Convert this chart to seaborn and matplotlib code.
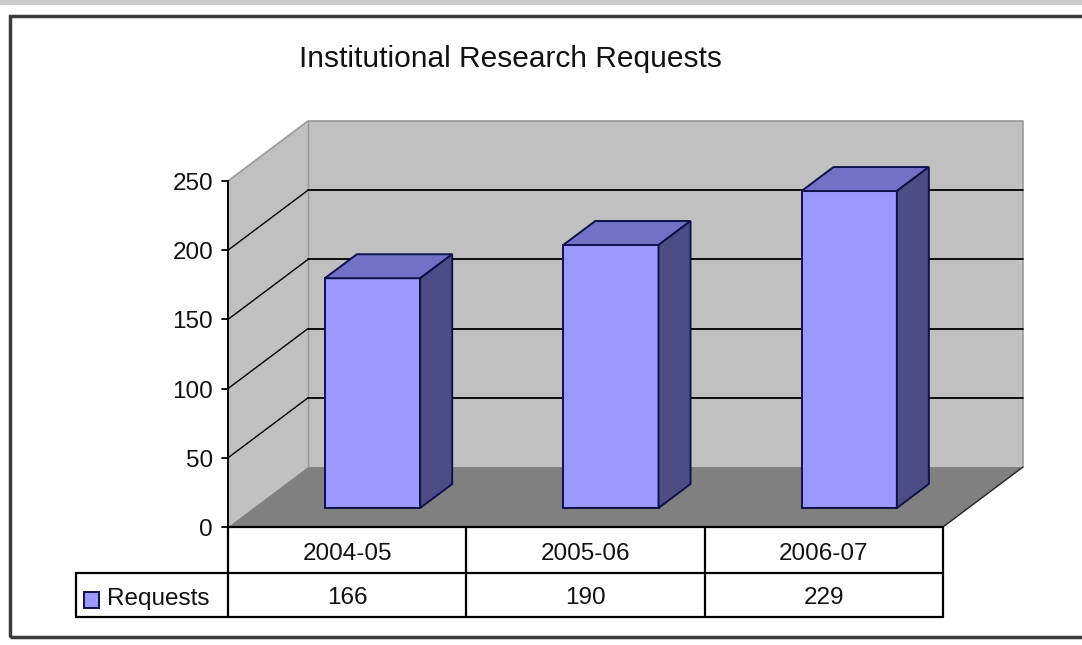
import matplotlib
matplotlib.use("Agg")
import matplotlib.pyplot as plt
from matplotlib.patches import Polygon, Rectangle
import seaborn as sns
import pandas as pd

# Data
periods = ["2004-05", "2005-06", "2006-07"]
requests = [166, 190, 229]
series_name = "Requests"
title = "Institutional Research Requests"
y_ticks = [0, 50, 100, 150, 200, 250]

sns.set_theme(style="white")
plt.rcParams["font.family"] = ["Liberation Sans", "DejaVu Sans"]

W, H = 1082, 645
fig = plt.figure(figsize=(W / 100, H / 100), dpi=100)
ax = fig.add_axes([0, 0, 1, 1])

# Pixel layout of the front plane: category slots and value scale
X0_PX, SLOT_PX = 228.0, 238.33   # left edge of front floor, width of one category
Y0_PX, UNIT_PX = 527.0, 1.384    # value 0 on front plane, pixels per unit


def px_x(px):
    return (px - X0_PX) / SLOT_PX - 0.5


def px_y(py):
    return (Y0_PX - py) / UNIT_PX


# depth of the 3D box in data units
DX = 80 / SLOT_PX
DY = 60 / UNIT_PX
YMAX = y_ticks[-1]
XL, XR = -0.5, len(periods) - 0.5

df = pd.DataFrame({"period": periods, "requests": requests})
sns.barplot(data=df, x="period", y="requests", ax=ax, width=0.4,
            color="#9999ff", saturation=1, edgecolor="#10104a",
            linewidth=1.4, zorder=5)

ax.set_xlim(px_x(0), px_x(W))
ax.set_ylim(px_y(H), px_y(0))
ax.axis("off")

# Walls and floor
wall = "#c0c0c0"
ax.add_patch(Polygon([(XL, 0), (XL, YMAX), (XL + DX, YMAX + DY), (XL + DX, DY)],
                     closed=True, facecolor=wall, edgecolor="none", zorder=1))
ax.add_patch(Polygon([(XL + DX, DY), (XL + DX, YMAX + DY), (XR + DX, YMAX + DY), (XR + DX, DY)],
                     closed=True, facecolor=wall, edgecolor="none", zorder=1))
ax.add_patch(Polygon([(XL, 0), (XR, 0), (XR + DX, DY), (XL + DX, DY)],
                     closed=True, facecolor="#808080", edgecolor="none", zorder=2))

edge_gray = "#9a9a9a"
ax.plot([XL, XL + DX, XR + DX, XR + DX], [YMAX, YMAX + DY, YMAX + DY, DY],
        color=edge_gray, lw=1.2, zorder=3)
ax.plot([XL + DX, XL + DX], [DY, YMAX + DY], color=edge_gray, lw=1.0, zorder=3)
ax.plot([XR, XR + DX], [0, DY], color="#222222", lw=1.0, zorder=3)

# Gridlines on back wall and left wall
for v in y_ticks[1:-1]:
    ax.plot([XL + DX, XR + DX], [v + DY, v + DY], color="black", lw=1.3, zorder=3)
    ax.plot([XL, XL + DX], [v, v + DY], color="black", lw=1.0, zorder=3)

# 3D bars: push front faces into depth and add top and side faces
F0 = 0.317   # depth of the bar front face
BD = 0.40    # bar depth
top_c, side_c, edge_c = "#7171c6", "#4c4c86", "#10104a"
for p in ax.patches[:]:
    if not isinstance(p, Rectangle):
        continue
    if p.get_facecolor()[:3] != matplotlib.colors.to_rgb("#9999ff"):
        continue
    x0 = p.get_x() + F0 * DX
    y0 = p.get_y() + F0 * DY
    w, h = p.get_width(), p.get_height()
    p.set_x(x0)
    p.set_y(y0)
    x1, y1 = x0 + w, y0 + h
    ddx, ddy = BD * DX, BD * DY
    ax.add_patch(Polygon([(x0, y1), (x0 + ddx, y1 + ddy), (x1 + ddx, y1 + ddy), (x1, y1)],
                         closed=True, facecolor=top_c, edgecolor=edge_c, lw=1.4, zorder=5))
    ax.add_patch(Polygon([(x1, y0), (x1 + ddx, y0 + ddy), (x1 + ddx, y1 + ddy), (x1, y1)],
                         closed=True, facecolor=side_c, edgecolor=edge_c, lw=1.4, zorder=5))

# Value axis
row1, row2 = px_y(573), px_y(617)
ax.plot([XL, XL], [row2, YMAX], color="black", lw=1.4, zorder=6)
tick_len = 6 / SLOT_PX
txt_size = 17.5
for v in y_ticks:
    ax.plot([XL - tick_len, XL], [v, v], color="black", lw=1.3, zorder=6)
    ax.text(XL - 15 / SLOT_PX, v - 9 / UNIT_PX, f"{v}", ha="right", va="baseline",
            fontsize=txt_size, color="#111111", zorder=6)

# Data table
leg_left = px_x(76)
ax.plot([XL, XR], [0, 0], color="black", lw=1.6, zorder=6)
ax.plot([leg_left, XR], [row1, row1], color="black", lw=1.6, zorder=6)
ax.plot([leg_left, XR], [row2, row2], color="black", lw=1.6, zorder=6)
ax.plot([leg_left, leg_left], [row1, row2], color="black", lw=1.6, zorder=6)
for i in range(len(periods) + 1):
    ax.plot([XL + i, XL + i], [0, row2], color="black", lw=1.6, zorder=6)
for i, (per, val) in enumerate(zip(periods, requests)):
    ax.text(i, px_y(560), per, ha="center", va="baseline", fontsize=txt_size,
            color="#111111", zorder=6)
    ax.text(i, px_y(604), f"{val}", ha="center", va="baseline", fontsize=txt_size,
            color="#111111", zorder=6)

# Legend key inside the table
ax.add_patch(Rectangle((px_x(84), px_y(608)), px_x(99) - px_x(84), px_y(592) - px_y(608),
                       facecolor="#9999ff", edgecolor="#10104a", lw=1.4, zorder=6))
ax.text(px_x(107), px_y(605), series_name, ha="left", va="baseline",
        fontsize=txt_size, color="#111111", zorder=6)

# Title
fig.text(510 / W, 1 - 67 / H, title, ha="center", va="baseline",
         fontsize=21.5, color="#111111")

# Window strip and chart border
fig.add_artist(Rectangle((0, 1 - 5 / H), 1, 5 / H, transform=fig.transFigure,
                         facecolor="#cccccc", edgecolor="none"))
fig.add_artist(Rectangle((10 / W, 1 - 637 / H), 1.2, (637 - 16) / H,
                         transform=fig.transFigure, facecolor="none",
                         edgecolor="#3c3c3c", lw=2.5))

fig.savefig("out.png", dpi=100, facecolor="white")
